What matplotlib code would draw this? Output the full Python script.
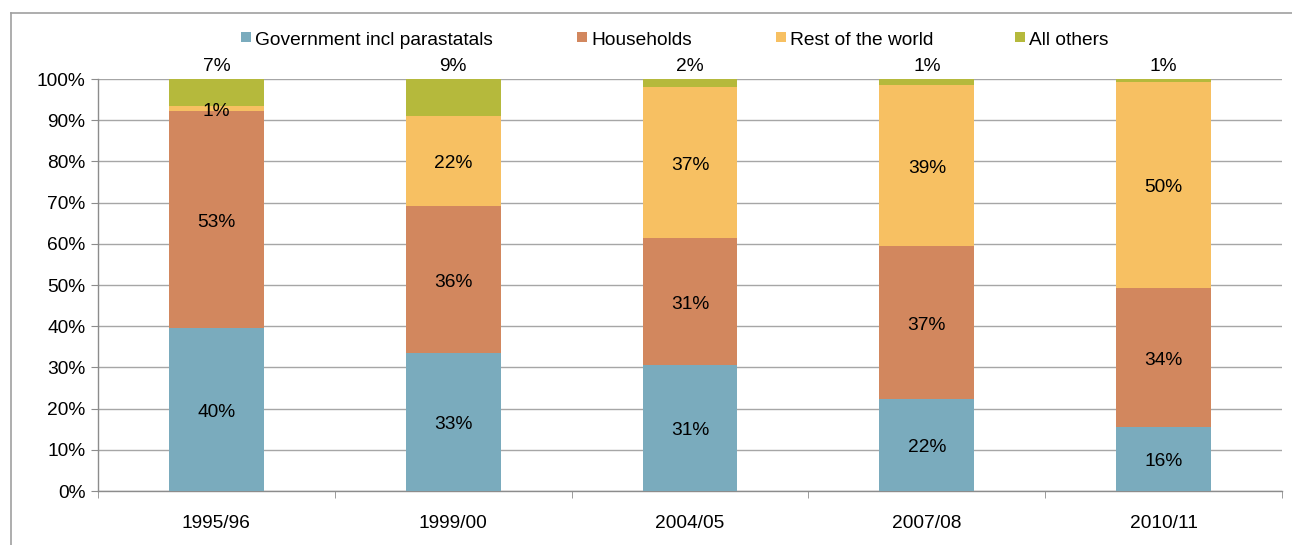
import matplotlib
matplotlib.use("Agg")
import matplotlib.pyplot as plt
from matplotlib.lines import Line2D
from matplotlib.patches import Rectangle
import numpy as np

plt.rcParams['font.family'] = ['Liberation Sans', 'DejaVu Sans']

periods = ["1995/96", "1999/00", "2004/05", "2007/08", "2010/11"]
series_names = ["Government incl parastatals", "Households", "Rest of the world", "All others"]
government = [39.6, 33.4, 30.6, 22.3, 15.5]
households = [52.6, 35.8, 30.7, 37.2, 33.8]
rest_of_world = [1.2, 21.8, 36.8, 39.1, 50.0]
all_others = [6.6, 9.0, 1.9, 1.4, 0.7]
colors = ["#7AABBD", "#D2875E", "#F7C062", "#B5B93C"]
y_ticks = [0, 10, 20, 30, 40, 50, 60, 70, 80, 90, 100]

W, H = 1292, 545
FS = 13.8
fig = plt.figure(figsize=(W / 100, H / 100), dpi=100)
ax = fig.add_axes([98 / W, 1 - 491 / H, (1282 - 98) / W, (491 - 79) / H])

x = np.arange(len(periods))
bottom = np.zeros(len(periods))
all_series = [government, households, rest_of_world, all_others]
for i, (name, vals, col) in enumerate(zip(series_names, all_series, colors)):
    vals = np.array(vals)
    ax.bar(x, vals, 0.4, bottom=bottom, color=col, label=name, zorder=3)
    for xi, b, v in zip(x, bottom, vals):
        if i < 3:
            ax.annotate(f"{v:.0f}%", (xi, b + v / 2), xytext=(0, -2),
                        textcoords="offset points", ha="center", va="center",
                        fontsize=FS, color="black", zorder=4)
        else:
            ax.annotate(f"{v:.0f}%", (xi, b + v), xytext=(0, 3),
                        textcoords="offset points", ha="center", va="bottom",
                        fontsize=FS, color="black", zorder=4)
    bottom = bottom + vals

ax.set_xlim(-0.5, len(periods) - 0.5)
ax.set_ylim(0, 100)
ax.set_yticks(y_ticks)
ax.set_yticklabels([f"{t}%" for t in y_ticks], fontsize=FS)
ax.set_xticks(x)
ax.set_xticklabels(periods, fontsize=FS)
ax.tick_params(axis="x", which="major", length=0, pad=17)
ax.set_xticks(np.arange(len(periods) + 1) - 0.5, minor=True)
ax.tick_params(axis="x", which="minor", length=5, direction="out", color="#8c8c8c")
ax.tick_params(axis="y", length=5, direction="out", color="#8c8c8c", pad=4)

ax.yaxis.grid(True, color="#a6a6a6", linewidth=1.0, zorder=0)
for s in ["top", "right"]:
    ax.spines[s].set_visible(False)
for s in ["left", "bottom"]:
    ax.spines[s].set_color("#8c8c8c")
    ax.spines[s].set_linewidth(1.0)

# legend row across the top
legend_x = [241, 577, 776, 1015]
for px, name, col in zip(legend_x, series_names, colors):
    fig.add_artist(Rectangle((px / W, 1 - 42 / H), 10 / W, 10 / H,
                             transform=fig.transFigure, color=col, lw=0))
    fig.text((px + 14) / W, 1 - 40.5 / H, name, fontsize=FS, ha="left", va="center")

# outer frame on left and top
fig.add_artist(Line2D([11 / W, 11 / W], [0, 1 - 13 / H], transform=fig.transFigure,
                      color="#a0a0a0", linewidth=1.2))
fig.add_artist(Line2D([11 / W, 1], [1 - 13 / H, 1 - 13 / H], transform=fig.transFigure,
                      color="#a0a0a0", linewidth=1.2))

fig.savefig("out.png", dpi=100)
